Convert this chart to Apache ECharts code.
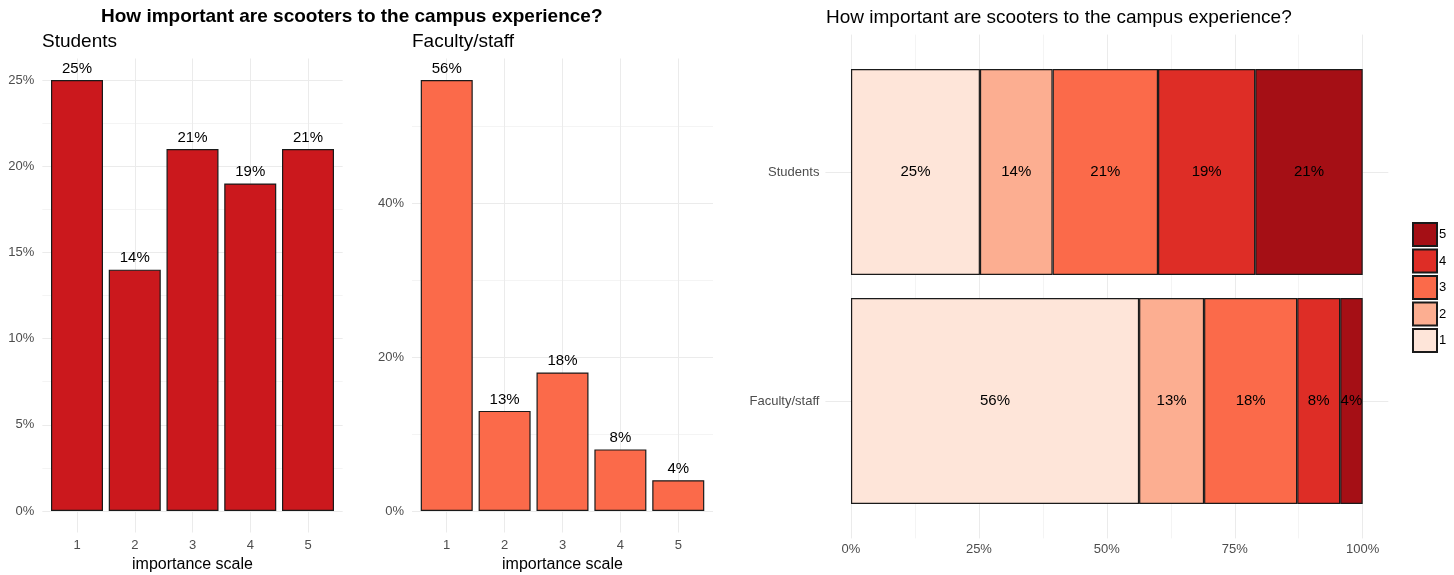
<!DOCTYPE html>
<html><head><meta charset="utf-8">
<script src="https://cdn.jsdelivr.net/npm/echarts@6/dist/echarts.min.js"></script>
<style>html,body{margin:0;padding:0;background:#fff}#c{width:1454px;height:575px}</style>
</head><body><div id="c"></div>
<script>
// ---- data ----
const scaleCats = [1, 2, 3, 4, 5];
const studentPct = [25, 14, 21, 19, 21];
const facultyPct = [56, 13, 18, 8, 4];
const groups = ['Faculty/staff', 'Students'];          // bottom -> top
const stackFaculty = [56.3, 12.7, 18.2, 8.4, 4.4];      // levels 1..5
const stackStudents = [25.2, 14.2, 20.6, 19.0, 21.0];   // levels 1..5
const levelNames = ['1', '2', '3', '4', '5'];
const ticksA = [0, 5, 10, 15, 20, 25];
const minorA = [2.5, 7.5, 12.5, 17.5, 22.5];
const ticksB = [0, 20, 40];
const minorB = [10, 30, 50];
const ticksC = [0, 25, 50, 75, 100];
const minorC = [12.5, 37.5, 62.5, 87.5];
const groupTicks = [1, 2];

// ---- styles ----
const levelColors = ['#FEE5D9', '#FCAE91', '#FB6A4A', '#DE2D26', '#A50F15'];
const FONT = 'Liberation Sans';
const TICK_COLOR = '#4d4d4d';
const MAJOR = { show: true, lineStyle: { color: '#ebebeb', width: 1 } };
const MINOR = { show: true, lineStyle: { color: '#f4f4f4', width: 1 } };
const BORDER = { borderColor: '#1a1a1a', borderWidth: 1.2 };

function mainAxis(min, max, ticks, extra) {
  return Object.assign({
    type: 'value', min: min, max: max,
    axisLine: { show: false },
    axisTick: { show: false, customValues: ticks },
    axisLabel: { customValues: ticks, color: TICK_COLOR, fontSize: 13, fontFamily: FONT },
    splitLine: MAJOR
  }, extra || {});
}
function minorAxis(min, max, ticks, extra) {
  return Object.assign({
    type: 'value', min: min, max: max,
    axisLine: { show: false },
    axisTick: { show: false, customValues: ticks },
    axisLabel: { show: false, customValues: ticks },
    splitLine: MINOR
  }, extra || {});
}
function grid(left, top, width, height) {
  return { left: left, top: top, width: width, height: height, containLabel: false, outerBoundsMode: 'none' };
}

const chart = echarts.init(document.getElementById('c'), null, { renderer: 'canvas' });
chart.setOption({
  animation: false,
  backgroundColor: '#fff',
  textStyle: { fontFamily: FONT },
  title: [
    { text: 'How important are scooters to the campus experience?', left: 101, top: 7, padding: 0,
      textStyle: { fontSize: 19, fontWeight: 'bold', color: '#000', fontFamily: FONT } },
    { text: 'Students', left: 42, top: 32, padding: 0,
      textStyle: { fontSize: 19, fontWeight: 'normal', color: '#000', fontFamily: FONT } },
    { text: 'Faculty/staff', left: 412, top: 32, padding: 0,
      textStyle: { fontSize: 19, fontWeight: 'normal', color: '#000', fontFamily: FONT } },
    { text: 'How important are scooters to the campus experience?', left: 826, top: 8, padding: 0,
      textStyle: { fontSize: 19, fontWeight: 'normal', color: '#000', fontFamily: FONT } }
  ],
  legend: {
    data: levelNames.slice().reverse(),
    orient: 'vertical', left: 1412, top: 222, padding: 0,
    itemWidth: 24, itemHeight: 23, itemGap: 1.5, icon: 'rect',
    textStyle: { fontSize: 13, color: '#000', fontFamily: FONT, padding: [0, 0, 0, -3] }
  },
  grid: [
    grid(42.35, 58.5, 300.3, 474),
    grid(412, 58.5, 301, 474),
    grid(825.4, 34.6, 562.9, 503.8),
    grid(825.4, 57.5, 562.9, 458)
  ],
  xAxis: [
    mainAxis(0.4, 5.6, scaleCats, { gridIndex: 0, name: 'importance scale', nameLocation: 'middle', nameGap: 22,
      nameTextStyle: { fontSize: 16, color: '#000', fontFamily: FONT },
      axisLabel: { customValues: scaleCats, color: TICK_COLOR, fontSize: 13, margin: 6, fontFamily: FONT } }),
    mainAxis(0.4, 5.6, scaleCats, { gridIndex: 1, name: 'importance scale', nameLocation: 'middle', nameGap: 22,
      nameTextStyle: { fontSize: 16, color: '#000', fontFamily: FONT },
      axisLabel: { customValues: scaleCats, color: TICK_COLOR, fontSize: 13, margin: 6, fontFamily: FONT } }),
    mainAxis(-5, 105, ticksC, { gridIndex: 2,
      axisLabel: { customValues: ticksC, formatter: '{value}%', color: TICK_COLOR, fontSize: 13, margin: 5, fontFamily: FONT } }),
    minorAxis(-5, 105, minorC, { gridIndex: 2, position: 'top' }),
    { gridIndex: 3, type: 'value', min: -5, max: 105, show: false }
  ],
  yAxis: [
    mainAxis(-1.25, 26.25, ticksA, { gridIndex: 0,
      axisLabel: { customValues: ticksA, formatter: '{value}%', color: TICK_COLOR, fontSize: 13, margin: 8, fontFamily: FONT } }),
    minorAxis(-1.25, 26.25, minorA, { gridIndex: 0, position: 'right' }),
    mainAxis(-2.8, 58.8, ticksB, { gridIndex: 1,
      axisLabel: { customValues: ticksB, formatter: '{value}%', color: TICK_COLOR, fontSize: 13, margin: 8, fontFamily: FONT } }),
    minorAxis(-2.8, 58.8, minorB, { gridIndex: 1, position: 'right' }),
    mainAxis(0.4, 2.6, groupTicks, { gridIndex: 2,
      axisLabel: { customValues: groupTicks, formatter: v => groups[Math.round(v) - 1], color: TICK_COLOR, fontSize: 13, margin: 6, fontFamily: FONT } }),
    { gridIndex: 3, type: 'category', data: groups, show: false }
  ],
  series: [
    {
      type: 'bar', xAxisIndex: 0, yAxisIndex: 0, barWidth: 52,
      data: scaleCats.map((c, i) => [c, studentPct[i]]),
      itemStyle: Object.assign({ color: '#CB181D' }, BORDER),
      label: { show: true, position: 'top', distance: 4, fontSize: 15, color: '#000', fontFamily: FONT,
        formatter: p => p.value[1] + '%' }
    },
    {
      type: 'bar', xAxisIndex: 1, yAxisIndex: 2, barWidth: 52,
      data: scaleCats.map((c, i) => [c, facultyPct[i]]),
      itemStyle: Object.assign({ color: '#FB6A4A' }, BORDER),
      label: { show: true, position: 'top', distance: 4, fontSize: 15, color: '#000', fontFamily: FONT,
        formatter: p => p.value[1] + '%' }
    }
  ].concat(levelNames.map((name, i) => ({
    type: 'bar', name: name, xAxisIndex: 4, yAxisIndex: 5, stack: 'all', barWidth: '90%',
    data: [stackFaculty[i], stackStudents[i]],
    itemStyle: Object.assign({ color: levelColors[i] }, BORDER),
    label: { show: true, position: 'inside', fontSize: 15, color: '#000', fontFamily: FONT,
      formatter: p => Math.round(p.value) + '%' }
  })))
});
</script></body></html>
